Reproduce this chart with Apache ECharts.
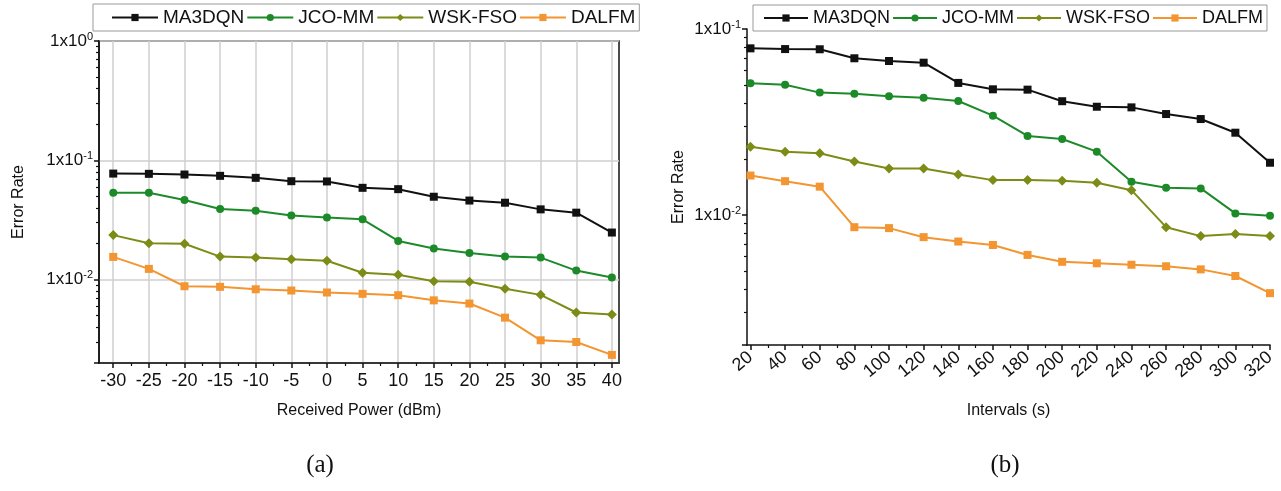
<!DOCTYPE html>
<html><head><meta charset="utf-8">
<script src="https://cdn.jsdelivr.net/npm/echarts@6/dist/echarts.min.js"></script>
<style>html,body{margin:0;padding:0;background:#fff}#c{width:1281px;height:491px}</style>
</head><body><div id="c"></div>
<script>
// ---------- data ----------
const seriesNames = ['MA3DQN', 'JCO-MM', 'WSK-FSO', 'DALFM'];

// (a) Received Power (dBm)
const powerValues = [-30, -25, -20, -15, -10, -5, 0, 5, 10, 15, 20, 25, 30, 35, 40];
const powerMinorTicks = [-27.5, -22.5, -17.5, -12.5, -7.5, -2.5, 2.5, 7.5, 12.5, 17.5, 22.5, 27.5, 32.5, 37.5];
const powerMA3DQN = [0.0774, 0.0770, 0.0760, 0.0741, 0.0713, 0.0668, 0.0665, 0.0588, 0.0573, 0.0495, 0.0460, 0.0441, 0.0388, 0.0364, 0.0248];
const powerJCOMM  = [0.0534, 0.0534, 0.0464, 0.0390, 0.0378, 0.0344, 0.0331, 0.0320, 0.0211, 0.0182, 0.0167, 0.0156, 0.0153, 0.0119, 0.0104];
const powerWSKFSO = [0.0236, 0.0202, 0.0200, 0.0156, 0.0153, 0.0148, 0.0144, 0.0114, 0.0110, 0.0097, 0.0096, 0.0084, 0.00745, 0.0053, 0.0051];
const powerDALFM  = [0.0155, 0.0123, 0.0088, 0.0087, 0.0083, 0.0081, 0.0078, 0.0076, 0.0074, 0.0067, 0.0063, 0.0048, 0.0031, 0.0030, 0.00234];

// (b) Intervals (s)
const intervalValues = [20, 40, 60, 80, 100, 120, 140, 160, 180, 200, 220, 240, 260, 280, 300, 320];
const intervalMinorTicks = [30, 50, 70, 90, 110, 130, 150, 170, 190, 210, 230, 250, 270, 290, 310];
const intervalMA3DQN = [0.0787, 0.0780, 0.0778, 0.0696, 0.0673, 0.0659, 0.0513, 0.0474, 0.0472, 0.0409, 0.0382, 0.0379, 0.0349, 0.0328, 0.0277, 0.0191];
const intervalJCOMM  = [0.0511, 0.0502, 0.0455, 0.0449, 0.0435, 0.0427, 0.0410, 0.0342, 0.0266, 0.0256, 0.0219, 0.0151, 0.0140, 0.0139, 0.0102, 0.0099];
const intervalWSKFSO = [0.0233, 0.0219, 0.0215, 0.0194, 0.0178, 0.0178, 0.0165, 0.0154, 0.0154, 0.0153, 0.0149, 0.0136, 0.0086, 0.0077, 0.0079, 0.0077];
const intervalDALFM  = [0.0163, 0.0152, 0.0142, 0.0086, 0.0085, 0.0076, 0.0072, 0.0069, 0.0061, 0.0056, 0.0055, 0.0054, 0.0053, 0.0051, 0.0047, 0.0038];

const logMinorTicks = [0.003, 0.004, 0.005, 0.006, 0.007, 0.008, 0.009, 0.02, 0.03, 0.04, 0.05, 0.06, 0.07, 0.08, 0.09, 0.2, 0.3, 0.4, 0.5, 0.6, 0.7, 0.8, 0.9];

// ---------- styling ----------
const colors = ['#111111', '#1d8a2a', '#7d8c16', '#f39530'];
const symbols = ['rect', 'circle', 'diamond', 'rect'];
const symbolSizes = [8, 8, 10, 8];
const FONT = 'Liberation Sans, Arial, sans-serif';

function zip(xs, ys) { return xs.map((x, i) => [x, ys[i]]); }

function logLabel(v) {
  const l = Math.log10(v);
  const e = Math.round(l);
  if (Math.abs(l - e) > 1e-6) return '';
  return '1x10{s|' + e + '}';
}
const logRich = { s: { fontSize: 11, fontFamily: FONT, color: '#111', padding: [0, 0, 9, 0] } };

function makeSeries(xIdx, yIdx, xs, arrays) {
  return arrays.map((arr, i) => ({
    name: seriesNames[i],
    type: 'line',
    xAxisIndex: xIdx,
    yAxisIndex: yIdx,
    data: zip(xs, arr),
    symbol: symbols[i],
    symbolSize: symbolSizes[i],
    showAllSymbol: true,
    lineStyle: { width: 2, color: colors[i] },
    itemStyle: { color: colors[i] },
    emphasis: { disabled: true },
    z: 3 + (3 - i)
  }));
}

const legendBase = {
  data: seriesNames,
  orient: 'horizontal',
  itemHeight: 9,
  itemGap: 2,
  borderColor: '#999',
  borderWidth: 1,
  backgroundColor: '#fff',
  selectedMode: false
};

const option = {
  animation: false,
  color: colors,
  title: [
    { text: '(a)', left: 315, top: 448, textAlign: 'center', textStyle: { fontFamily: 'Liberation Serif, serif', fontWeight: 'normal', fontSize: 25, color: '#111' } },
    { text: '(b)', left: 1000, top: 448, textAlign: 'center', textStyle: { fontFamily: 'Liberation Serif, serif', fontWeight: 'normal', fontSize: 25, color: '#111' } }
  ],
  legend: [
    Object.assign({}, legendBase, { left: 93, top: 4, width: 560, itemWidth: 46, padding: [4, 4, 4, 18],
      textStyle: { fontSize: 19, fontFamily: FONT, color: '#111' } }),
    Object.assign({}, legendBase, { left: 753, top: 5, width: 528, itemWidth: 44, padding: [4, 4, 4, 10],
      textStyle: { fontSize: 18, fontFamily: FONT, color: '#111' } })
  ],
  grid: [
    { left: 99, top: 41, width: 520, height: 322, show: true, borderColor: '#111', borderWidth: 1.5, backgroundColor: 'transparent' },
    { left: 747, top: 29, width: 523, height: 316 }
  ],
  xAxis: [
    { // (a) main
      type: 'value', gridIndex: 0, min: -32, max: 41,
      name: 'Received Power (dBm)', nameLocation: 'middle', nameGap: 40,
      nameTextStyle: { fontSize: 16, fontFamily: FONT, color: '#111' },
      axisLine: { onZero: false, lineStyle: { color: '#111', width: 1.5 } },
      axisTick: { show: true, length: 5, customValues: powerValues, lineStyle: { color: '#111', width: 1.5 } },
      axisLabel: { customValues: powerValues, fontSize: 18, fontFamily: FONT, color: '#111', margin: 9 },
      splitLine: { show: true, lineStyle: { color: '#cfcfcf', width: 1.5 } }
    },
    { // (a) minor ticks
      type: 'value', gridIndex: 0, min: -32, max: 41, position: 'bottom',
      axisLine: { show: false, onZero: false },
      axisTick: { show: true, length: 3, customValues: powerMinorTicks, lineStyle: { color: '#111', width: 1.2 } },
      axisLabel: { show: false },
      splitLine: { show: false }
    },
    { // (b) main
      type: 'value', gridIndex: 1, min: 18, max: 320,
      name: 'Intervals (s)', nameLocation: 'middle', nameGap: 58,
      nameTextStyle: { fontSize: 16, fontFamily: FONT, color: '#111' },
      axisLine: { onZero: false, lineStyle: { color: '#111', width: 1.5 } },
      axisTick: { show: true, length: 5, customValues: intervalValues, lineStyle: { color: '#111', width: 1.5 } },
      axisLabel: { customValues: intervalValues, rotate: 40, fontSize: 18, fontFamily: FONT, color: '#111', margin: 10 },
      splitLine: { show: false }
    },
    { // (b) minor ticks
      type: 'value', gridIndex: 1, min: 18, max: 320, position: 'bottom',
      axisLine: { show: false, onZero: false },
      axisTick: { show: true, length: 3, customValues: intervalMinorTicks, lineStyle: { color: '#111', width: 1.2 } },
      axisLabel: { show: false },
      splitLine: { show: false }
    }
  ],
  yAxis: [
    { // (a)
      type: 'log', gridIndex: 0, min: 0.002, max: 1, logBase: 10, position: 'left',
      name: 'Error Rate', nameLocation: 'middle', nameGap: 72,
      nameTextStyle: { fontSize: 16, fontFamily: FONT, color: '#111' },
      axisLine: { show: true, onZero: false, lineStyle: { color: '#111', width: 1.5 } },
      axisTick: { show: true, length: 5, inside: false, lineStyle: { color: '#111', width: 1.5 } },
      axisLabel: { formatter: logLabel, rich: logRich, fontSize: 17, fontFamily: FONT, color: '#111', margin: 6 },
      splitLine: { show: true, lineStyle: { color: '#cfcfcf', width: 1.5 } }
    },
    { // (a) minor ticks
      type: 'log', gridIndex: 0, min: 0.002, max: 1, logBase: 10, position: 'left', offset: 0,
      axisLine: { show: false, onZero: false },
      axisTick: { show: true, length: 3, inside: false, customValues: logMinorTicks, lineStyle: { color: '#111', width: 1.2 } },
      axisLabel: { show: false },
      splitLine: { show: false }
    },
    { // (b)
      type: 'log', gridIndex: 1, min: 0.002, max: 0.1, logBase: 10, position: 'left',
      name: 'Error Rate', nameLocation: 'middle', nameGap: 60,
      nameTextStyle: { fontSize: 16, fontFamily: FONT, color: '#111' },
      axisLine: { show: true, onZero: false, lineStyle: { color: '#111', width: 1.5 } },
      axisTick: { show: true, length: 5, inside: false, lineStyle: { color: '#111', width: 1.5 } },
      axisLabel: { formatter: logLabel, rich: logRich, fontSize: 17, fontFamily: FONT, color: '#111', margin: 6 },
      splitLine: { show: false }
    },
    { // (b) minor ticks
      type: 'log', gridIndex: 1, min: 0.002, max: 0.1, logBase: 10, position: 'left', offset: 0,
      axisLine: { show: false, onZero: false },
      axisTick: { show: true, length: 3, inside: false, customValues: logMinorTicks, lineStyle: { color: '#111', width: 1.2 } },
      axisLabel: { show: false },
      splitLine: { show: false }
    }
  ],
  series: [].concat(
    makeSeries(0, 0, powerValues, [powerMA3DQN, powerJCOMM, powerWSKFSO, powerDALFM]),
    makeSeries(2, 2, intervalValues, [intervalMA3DQN, intervalJCOMM, intervalWSKFSO, intervalDALFM])
  )
};

const chart = echarts.init(document.getElementById('c'), null, { renderer: 'canvas' });
chart.setOption(option);
</script>
</body></html>
